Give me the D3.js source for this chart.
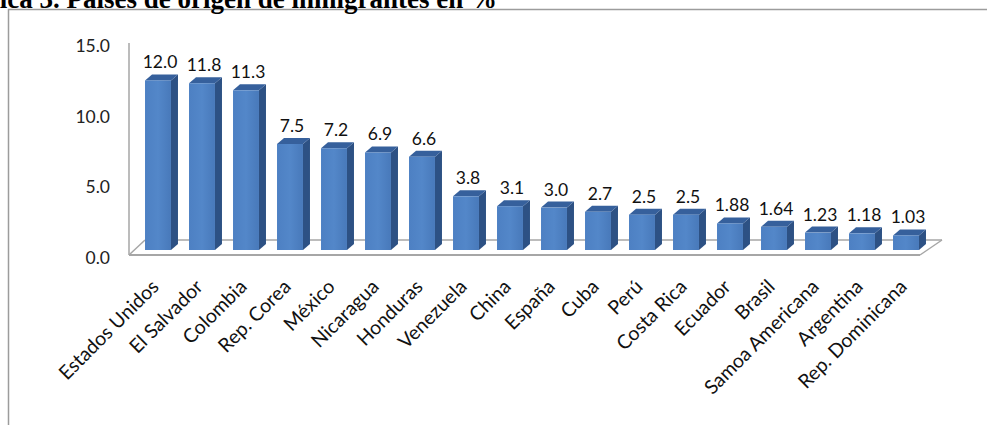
<!DOCTYPE html>
<html>
<head>
<meta charset="utf-8">
<script src="https://cdn.jsdelivr.net/npm/d3@7"></script>
<style>
  body { margin: 0; background: white; }
  svg { display: block; }
</style>
</head>
<body>
<div id="chart"></div>
<script>
var paises = ["Estados Unidos", "El Salvador", "Colombia", "Rep. Corea", "México", "Nicaragua",
    "Honduras", "Venezuela", "China", "España", "Cuba", "Perú", "Costa Rica", "Ecuador",
    "Brasil", "Samoa Americana", "Argentina", "Rep. Dominicana"];
var porcentajes = [12.0, 11.8, 11.3, 7.5, 7.2, 6.9, 6.6, 3.8, 3.1, 3.0, 2.7, 2.5, 2.5, 1.88, 1.64, 1.23, 1.18, 1.03];
var etiquetas = ["12.0", "11.8", "11.3", "7.5", "7.2", "6.9", "6.6", "3.8", "3.1", "3.0", "2.7", "2.5", "2.5", "1.88", "1.64", "1.23", "1.18", "1.03"];
var ticks = [0, 5, 10, 15];

function drawChart() {

    var width = 987;
    var height = 425;

    var depth = { dx: 7, dy: -6 };

    var svg = d3.select("#chart").append("svg")
        .attr("width", width)
        .attr("height", height);

    // chart frame
    svg.append("rect")
        .attr("x", 8.5)
        .attr("y", 9.5)
        .attr("width", 990)
        .attr("height", 430)
        .attr("fill", "none")
        .attr("stroke", "#9c9c9c")
        .attr("stroke-width", 1.5);

    // title, cut off at the top of the picture
    svg.append("text")
        .attr("x", 497)
        .attr("y", 8)
        .attr("text-anchor", "end")
        .attr("font-family", "Liberation Serif")
        .attr("font-weight", "bold")
        .attr("font-size", 27)
        .text("Gráfica 3. Países de origen de inmigrantes en %");

    var x = d3.scaleBand()
        .domain(paises)
        .range([136, 928])
        .paddingInner(0.41)
        .paddingOuter(0.205);

    var y = d3.scaleLinear()
        .domain([0, 15])
        .range([250, 38]);

    // axis labels sit on the front plane, a bit lower than the bars
    var yFront = d3.scaleLinear()
        .domain([0, 15])
        .range([258, 46]);

    var yAxis = svg.append("g")
        .attr("transform", "translate(110,0)")
        .call(d3.axisLeft(yFront).tickValues(ticks).tickSize(0).tickPadding(0).tickFormat(d3.format(".1f")));
    yAxis.select(".domain").remove();
    yAxis.selectAll("text")
        .attr("font-family", "Lato")
        .attr("font-size", 17.5)
        .attr("fill", "#222");

    // floor
    var fl = { x0: 129, x1: 920, y0: 255, back: 240, dxl: 16, dxr: 22 };
    svg.append("line")
        .attr("x1", fl.x0 + fl.dxl).attr("y1", fl.back)
        .attr("x2", fl.x1 + fl.dxr).attr("y2", fl.back)
        .attr("stroke", "#a6a6a6").attr("stroke-width", 1.5);
    svg.append("line")
        .attr("x1", fl.x0).attr("y1", fl.y0)
        .attr("x2", fl.x0 + fl.dxl).attr("y2", fl.back)
        .attr("stroke", "#a6a6a6").attr("stroke-width", 1.5);
    svg.append("line")
        .attr("x1", fl.x1).attr("y1", fl.y0)
        .attr("x2", fl.x1 + fl.dxr).attr("y2", fl.back)
        .attr("stroke", "#a6a6a6").attr("stroke-width", 1.5);

    // value axis line
    svg.append("line")
        .attr("x1", fl.x0).attr("y1", 43)
        .attr("x2", fl.x0).attr("y2", fl.y0)
        .attr("stroke", "#a6a6a6").attr("stroke-width", 1.5);

    var defs = svg.append("defs");
    var grad = defs.append("linearGradient")
        .attr("id", "front")
        .attr("x1", 0).attr("x2", 1).attr("y1", 0).attr("y2", 0);
    grad.append("stop").attr("offset", 0).attr("stop-color", "#4d80c3");
    grad.append("stop").attr("offset", 0.5).attr("stop-color", "#5387c9");
    grad.append("stop").attr("offset", 1).attr("stop-color", "#4879ba");

    var bars = svg.selectAll(".bar")
        .data(porcentajes)
        .enter().append("g")
        .attr("class", "bar");

    bars.append("path")
        .attr("fill", "#2d5184")
        .attr("d", function (d, i) {
            var x1 = x(paises[i]) + x.bandwidth();
            return "M" + x1 + "," + y(d) +
                "L" + (x1 + depth.dx) + "," + (y(d) + depth.dy) +
                "L" + (x1 + depth.dx) + "," + (y(0) + depth.dy) +
                "L" + x1 + "," + y(0) + "Z";
        });

    bars.append("path")
        .attr("fill", "#36609c")
        .attr("d", function (d, i) {
            var x0 = x(paises[i]);
            var x1 = x0 + x.bandwidth();
            return "M" + x0 + "," + y(d) +
                "L" + (x0 + depth.dx) + "," + (y(d) + depth.dy) +
                "L" + (x1 + depth.dx) + "," + (y(d) + depth.dy) +
                "L" + x1 + "," + y(d) + "Z";
        });

    bars.append("rect")
        .attr("x", function (d, i) { return x(paises[i]); })
        .attr("y", function (d) { return y(d); })
        .attr("width", x.bandwidth())
        .attr("height", function (d) { return y(0) - y(d); })
        .attr("fill", "url(#front)");

    // front edge of the floor, drawn over the bar feet
    svg.append("line")
        .attr("x1", fl.x0).attr("y1", fl.y0)
        .attr("x2", fl.x1).attr("y2", fl.y0)
        .attr("stroke", "#a6a6a6").attr("stroke-width", 2);

    // value labels
    svg.selectAll(".valor")
        .data(porcentajes)
        .enter().append("text")
        .attr("class", "valor")
        .attr("x", function (d, i) { return x(paises[i]) + x.bandwidth() / 2 + 2; })
        .attr("y", function (d) { return y(d) - 12; })
        .attr("text-anchor", "middle")
        .attr("font-family", "Lato")
        .attr("font-size", 17.5)
        .attr("fill", "#111")
        .text(function (d, i) { return etiquetas[i]; });

    // category labels at 45 degrees
    svg.selectAll(".pais")
        .data(paises)
        .enter().append("text")
        .attr("class", "pais")
        .attr("text-anchor", "end")
        .attr("font-family", "Lato")
        .attr("font-size", 19.5)
        .attr("fill", "#111")
        .attr("transform", function (d) {
            return "translate(" + (x(d) + x.bandwidth() / 2 + 2) + ",288) rotate(-45)";
        })
        .text(function (d) { return d; });
}

drawChart();
</script>
</body>
</html>
